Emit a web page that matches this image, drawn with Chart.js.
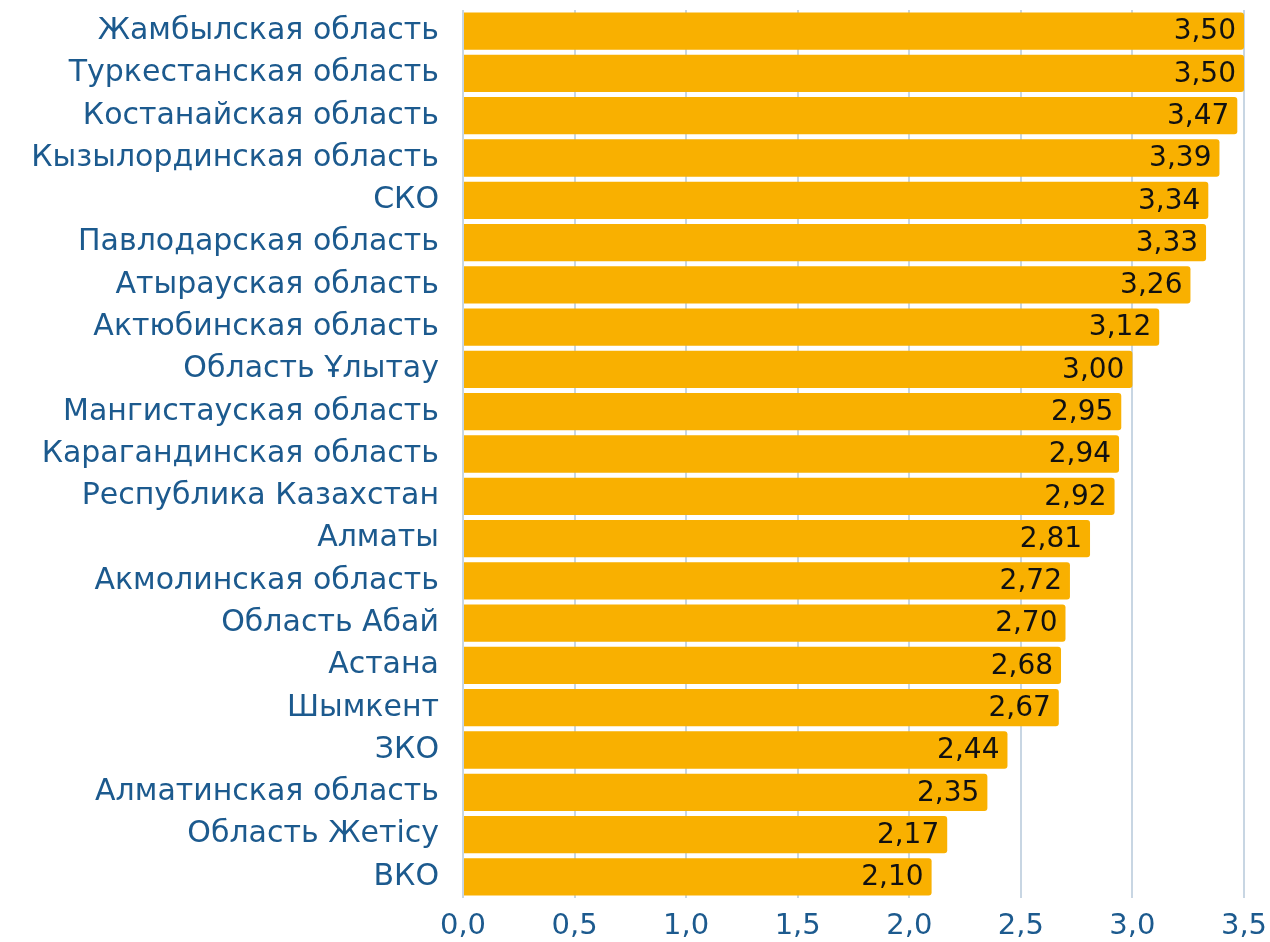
<!DOCTYPE html>
<html>
<head>
<meta charset="utf-8">
<script src="https://cdn.jsdelivr.net/npm/chart.js@4/dist/chart.umd.min.js"></script>
<style>
  html, body { margin: 0; padding: 0; background: #fff; }
  #wrap { width: 1270px; height: 942px; position: relative; }
</style>
</head>
<body>
<div id="wrap"><canvas id="chart"></canvas></div>
<script>
const regions = [
  'Жамбылская область', 'Туркестанская область', 'Костанайская область',
  'Кызылординская область', 'СКО', 'Павлодарская область', 'Атырауская область',
  'Актюбинская область', 'Область Ұлытау', 'Мангистауская область',
  'Карагандинская область', 'Республика Казахстан', 'Алматы', 'Акмолинская область',
  'Область Абай', 'Астана', 'Шымкент', 'ЗКО', 'Алматинская область',
  'Область Жетісу', 'ВКО'
];
const scores = [3.50, 3.50, 3.47, 3.39, 3.34, 3.33, 3.26, 3.12, 3.00, 2.95,
  2.94, 2.92, 2.81, 2.72, 2.70, 2.68, 2.67, 2.44, 2.35, 2.17, 2.10];

const FONT = "'DejaVu Sans', sans-serif";
const fmt = (v, d) => v.toFixed(d).replace('.', ',');

// value labels at the end of each bar
const valueLabels = {
  id: 'valueLabels',
  afterDatasetsDraw(chart) {
    const ctx = chart.ctx;
    const meta = chart.getDatasetMeta(0);
    ctx.save();
    ctx.font = '28px ' + FONT;
    ctx.fillStyle = '#111';
    ctx.textAlign = 'right';
    ctx.textBaseline = 'middle';
    meta.data.forEach((bar, i) => {
      ctx.fillText(fmt(scores[i], 2), bar.x - 8, bar.y + 1);
    });
    ctx.restore();
  }
};

new Chart(document.getElementById('chart'), {
  type: 'bar',
  data: {
    labels: regions,
    datasets: [{
      data: scores,
      backgroundColor: '#F9B000',
      borderRadius: { topRight: 3, bottomRight: 3 },
      borderSkipped: false,
      barPercentage: 0.9,
      categoryPercentage: 0.98
    }]
  },
  options: {
    indexAxis: 'y',
    responsive: true,
    maintainAspectRatio: false,
    animation: false,
    layout: { padding: { top: 10, right: 0, bottom: 0, left: 0 } },
    plugins: {
      legend: { display: false },
      tooltip: { enabled: false }
    },
    scales: {
      x: {
        min: 0,
        max: 3.5,
        border: { display: false },
        grid: { color: '#c8d6e3', lineWidth: 2, drawTicks: false },
        afterFit(scale) {
          scale.height = 44;
          scale.paddingLeft = 0;
          scale.paddingRight = 26;
        },
        ticks: {
          stepSize: 0.5,
          padding: 11,
          color: '#1c5a8e',
          font: { family: FONT, size: 29 },
          callback: (v) => fmt(v, 1)
        }
      },
      y: {
        border: { display: false },
        grid: { display: false, drawTicks: false },
        afterFit(scale) {
          scale.width = 463;
          scale.paddingTop = 0;
          scale.paddingBottom = 0;
        },
        ticks: {
          padding: 24,
          color: '#1c5a8e',
          font: { family: FONT, size: 30 }
        }
      }
    }
  },
  plugins: [valueLabels]
});
</script>
</body>
</html>
